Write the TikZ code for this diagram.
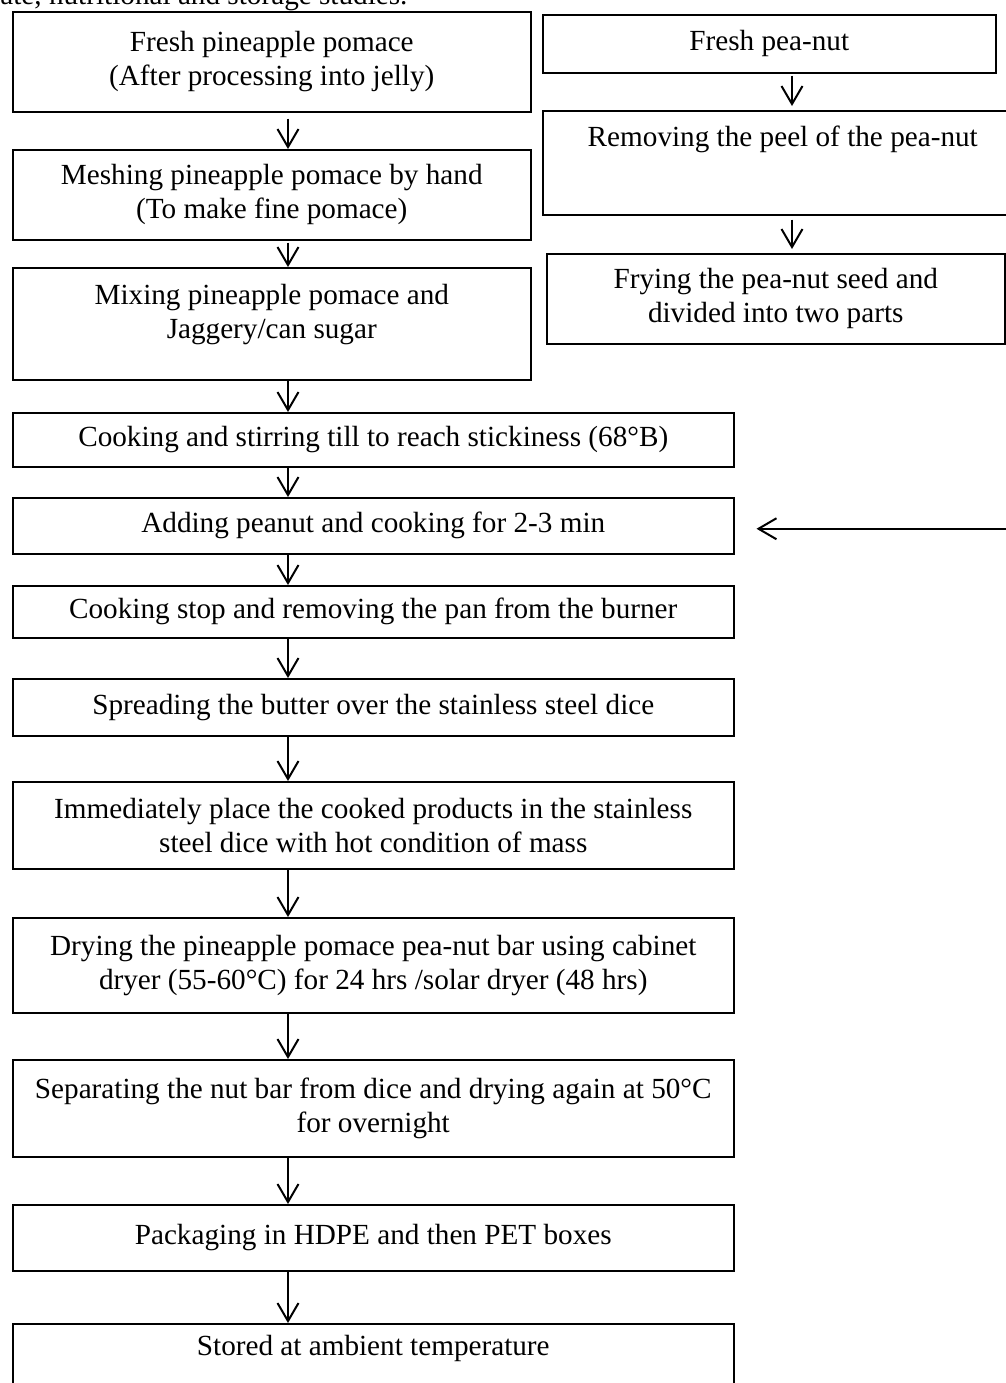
\documentclass[tikz,border=0pt]{standalone}
\usepackage{fontspec}
\setmainfont{Liberation Serif}
\usetikzlibrary{arrows.meta}

\begin{document}
\begin{tikzpicture}[
            x = 0.5pt, y = -0.5pt, % one unit per pixel, y going down
            font = \fontsize{14.6pt}{17pt}\selectfont, % text size
            box/.style = {draw, line width=0.75pt, inner sep=0pt, align=center, anchor=north west},
            narrow/.style = {box, minimum width=259pt}, % upper left boxes
            wide/.style = {box, minimum width=360.5pt}, % lower boxes
            flow/.style = {-{Straight Barb[length=9pt,width=10.5pt]}, line width=1pt} % open arrow head
        ]

	\useasboundingbox (0,0) rectangle (1006,1383);
	\clip (0,0) rectangle (1006,1383);

	\node[anchor=base west, inner sep=0pt] (caption) at (0,4) {ate, nutritional and storage studies.};

	% pineapple pomace
	\node[narrow, minimum height=50pt] (pomace) at (12,11) {Fresh pineapple pomace\\(After processing into jelly)};
	\node[narrow, minimum height=45pt] (mesh) at (12,149) {Meshing pineapple pomace by hand\\(To make fine pomace)};
	\node[narrow, minimum height=56pt, text height=27pt, text depth=12pt] (mix) at (12,267) {Mixing pineapple pomace and\\Jaggery/can sugar};
	\node[wide, minimum height=27pt] (cook) at (12,412) {Cooking and stirring till to reach stickiness (68°B)};
	\node[wide, minimum height=28pt] (add) at (12,497) {Adding peanut and cooking for 2-3 min};
	\node[wide, minimum height=26pt] (stop) at (12,585) {Cooking stop and removing the pan from the burner};
	\node[wide, minimum height=28.5pt] (spread) at (12,678) {Spreading the butter over the stainless steel dice};
	\node[wide, minimum height=43.5pt] (place) at (12,781) {Immediately place the cooked products in the stainless\\steel dice with hot condition of mass};
	\node[wide, minimum height=47.5pt] (dry) at (12,917) {Drying the pineapple pomace pea-nut bar using cabinet\\dryer (55-60°C) for 24 hrs /solar dryer (48 hrs)};
	\node[wide, minimum height=48.5pt] (separate) at (12,1059) {Separating the nut bar from dice and drying again at 50°C\\for overnight};
	\node[wide, minimum height=33pt] (pack) at (12,1204) {Packaging in HDPE and then PET boxes};
	\node[wide, minimum height=38.5pt, text height=10pt, text depth=17pt] (store) at (12,1323) {Stored at ambient temperature};

	% pea-nut
	\node[box, minimum width=226.5pt, minimum height=29pt] (nut) at (542,14) {Fresh pea-nut};
	\node[box, minimum width=240pt, minimum height=52pt, text height=10pt, text depth=26pt] (peel) at (542,110) {Removing the peel of the pea-nut};
	\node[box, minimum width=229pt, minimum height=45pt] (fry) at (546,253) {Frying the pea-nut seed and\\divided into two parts};

	\coordinate (ax) at (288,0);
	\coordinate (bx) at (792,0);
	\coordinate (turn) at (1030,282);

	\draw[flow, shorten <=3pt] (pomace.south -| ax) -- (mesh.north -| ax);
	\draw[flow, shorten <=1pt] (mesh.south -| ax) -- (mix.north -| ax);
	\draw[flow] (mix.south -| ax) -- (cook.north -| ax);
	\draw[flow] (cook.south -| ax) -- (add.north -| ax);
	\draw[flow] (add.south -| ax) -- (stop.north -| ax);
	\draw[flow] (stop.south -| ax) -- (spread.north -| ax);
	\draw[flow] (spread.south -| ax) -- (place.north -| ax);
	\draw[flow] (place.south -| ax) -- (dry.north -| ax);
	\draw[flow] (dry.south -| ax) -- (separate.north -| ax);
	\draw[flow] (separate.south -| ax) -- (pack.north -| ax);
	\draw[flow] (pack.south -| ax) -- (store.north -| ax);

	\draw[flow, shorten <=1pt, shorten >=2pt] (nut.south -| bx) -- (peel.north -| bx);
	\draw[flow, shorten <=2pt, shorten >=2pt] (peel.south -| bx) -- (fry.north -| bx);

	% fried pea-nut fed back into the pan
	\draw[flow, shorten >=11pt] (fry.east |- turn) -- (turn) |- ([yshift=-1.5pt]add.east);

\end{tikzpicture}
\end{document}
